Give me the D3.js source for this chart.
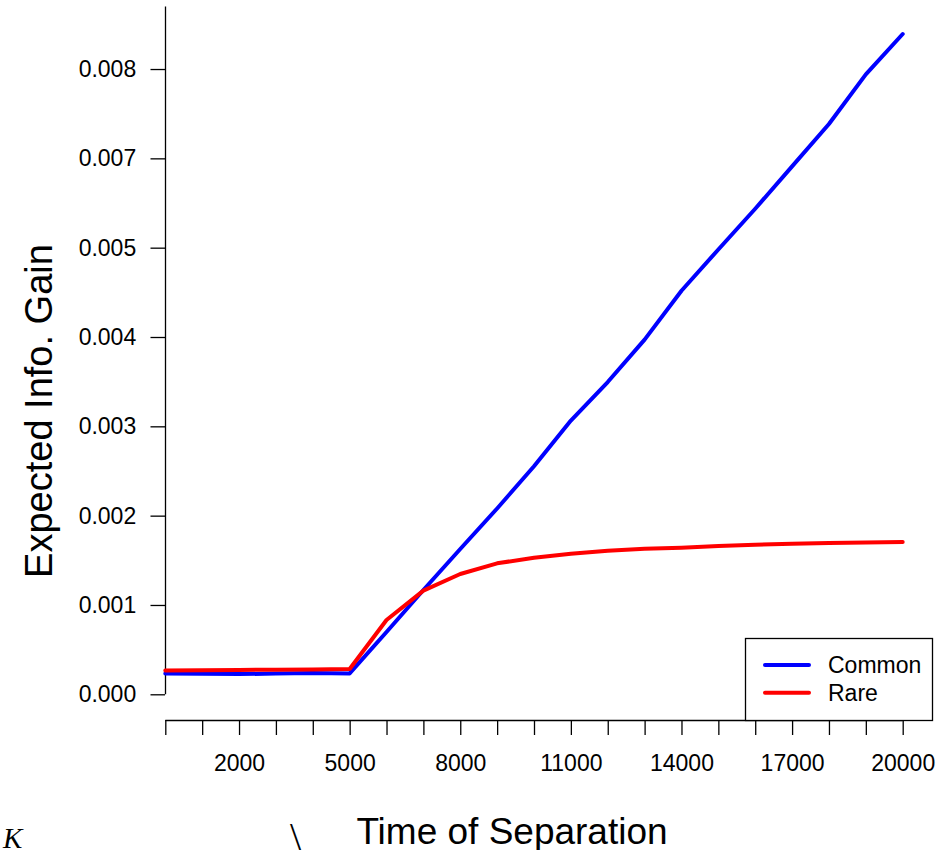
<!DOCTYPE html>
<html>
<head>
<meta charset="utf-8">
<script src="https://cdn.jsdelivr.net/npm/d3@7"></script>
<style>
  html, body { margin: 0; padding: 0; background: #fff; }
  svg { display: block; }
  text { font-family: "Liberation Sans", Arial, Helvetica, sans-serif; fill: #000; }
</style>
</head>
<body>
<svg id="chart" width="939" height="850"></svg>
<script>
// Separation times (one point every 1000 generations)
const times = [0, 1000, 2000, 3000, 4000, 5000, 6000, 7000, 8000, 9000, 10000,
               11000, 12000, 13000, 14000, 15000, 16000, 17000, 18000, 19000, 20000];

// Expected information gain for each variant class
const commonGain = [0.000233, 0.000230, 0.000226, 0.000232, 0.000238, 0.000234,
                    0.000697, 0.001168, 0.001627, 0.002080, 0.002553,
                    0.003065, 0.003496, 0.003971, 0.004518, 0.004980,
                    0.005436, 0.005910, 0.006384, 0.006940, 0.007392];
const rareGain   = [0.000266, 0.000270, 0.000273, 0.000276, 0.000279, 0.000283,
                    0.000832, 0.001160, 0.001347, 0.001466, 0.001529,
                    0.001574, 0.001608, 0.001630, 0.001641, 0.001660,
                    0.001675, 0.001686, 0.001694, 0.001700, 0.001705];

const seriesNames  = ["Common", "Rare"];
const seriesColors = ["#0000ff", "#ff0000"];

// Axis ticks and their printed labels
const yTicks      = [0, 0.001, 0.002, 0.003, 0.004, 0.005, 0.006, 0.007];
const yTickLabels = ["0.000", "0.001", "0.002", "0.003", "0.004", "0.005", "0.007", "0.008"];
const xTicks      = times;
const xTickLabels = ["2000", "5000", "8000", "11000", "14000", "17000", "20000"];

const svg = d3.select("#chart");

const x = d3.scaleLinear().domain([0, 20000]).range([165.3, 902.7]);
const y = d3.scaleLinear().domain([0, 0.0077]).range([694.3, 6.5]);

// Y axis
const yAxis = d3.axisLeft(y)
  .tickValues(yTicks)
  .tickFormat((d, i) => yTickLabels[i])
  .tickSize(14.5)
  .tickPadding(14.3);
const gy = svg.append("g").attr("transform", "translate(165,0)").call(yAxis);
gy.selectAll("text").style("font-size", "23px");
gy.selectAll("line, path").attr("stroke", "#000").attr("stroke-width", 1.3);
gy.select(".domain").attr("d", `M0.5,${y(0.0077)}V${y(0)}`);

// X axis (separate line below the plot)
const xAxis = d3.axisBottom(x)
  .tickValues(xTicks)
  .tickFormat(d => xTickLabels.includes(String(d)) ? String(d) : "")
  .tickSize(15)
  .tickPadding(20);
const gx = svg.append("g").attr("transform", "translate(0,720)").call(xAxis);
gx.selectAll("text").style("font-size", "23px");
gx.selectAll("line, path").attr("stroke", "#000").attr("stroke-width", 1.3);
gx.select(".domain").attr("d", `M${x(0)},0.5H${x(20000)}`);

// Data lines
const line = d3.line().x((d, i) => x(times[i])).y(d => y(d));
[commonGain, rareGain].forEach((vals, k) => {
  svg.append("path")
    .datum(vals)
    .attr("d", line)
    .attr("fill", "none")
    .attr("stroke", seriesColors[k])
    .attr("stroke-width", 4)
    .attr("stroke-linejoin", "round")
    .attr("stroke-linecap", "round");
});

// Legend
const legend = svg.append("g");
legend.append("rect")
  .attr("x", 745.5).attr("y", 638.5)
  .attr("width", 187).attr("height", 82)
  .attr("fill", "#fff").attr("stroke", "#000").attr("stroke-width", 1.3);
seriesNames.forEach((name, k) => {
  const ly = 665 + k * 27.7;
  legend.append("line")
    .attr("x1", 765).attr("x2", 809)
    .attr("y1", ly).attr("y2", ly)
    .attr("stroke", seriesColors[k]).attr("stroke-width", 4)
    .attr("stroke-linecap", "round");
  legend.append("text")
    .attr("x", 828).attr("y", ly)
    .attr("dy", "0.35em")
    .style("font-size", "23px")
    .text(name);
});

// Axis titles
svg.append("text")
  .attr("transform", "translate(52,411) rotate(-90)")
  .attr("text-anchor", "middle")
  .style("font-size", "38px")
  .text("Expected Info. Gain");

svg.append("text")
  .attr("x", 512).attr("y", 844)
  .attr("text-anchor", "middle")
  .style("font-size", "37px")
  .text("Time of Separation");

// Fragments along the bottom edge
svg.append("text")
  .attr("x", 3).attr("y", 848)
  .style("font-family", "'Liberation Serif', 'DejaVu Serif', serif")
  .style("font-style", "italic")
  .style("font-size", "29px")
  .text("K");

svg.append("text")
  .attr("x", 290).attr("y", 850)
  .style("font-family", "'Liberation Serif', 'DejaVu Serif', serif")
  .style("font-size", "40px")
  .text("\\");
</script>
</body>
</html>
